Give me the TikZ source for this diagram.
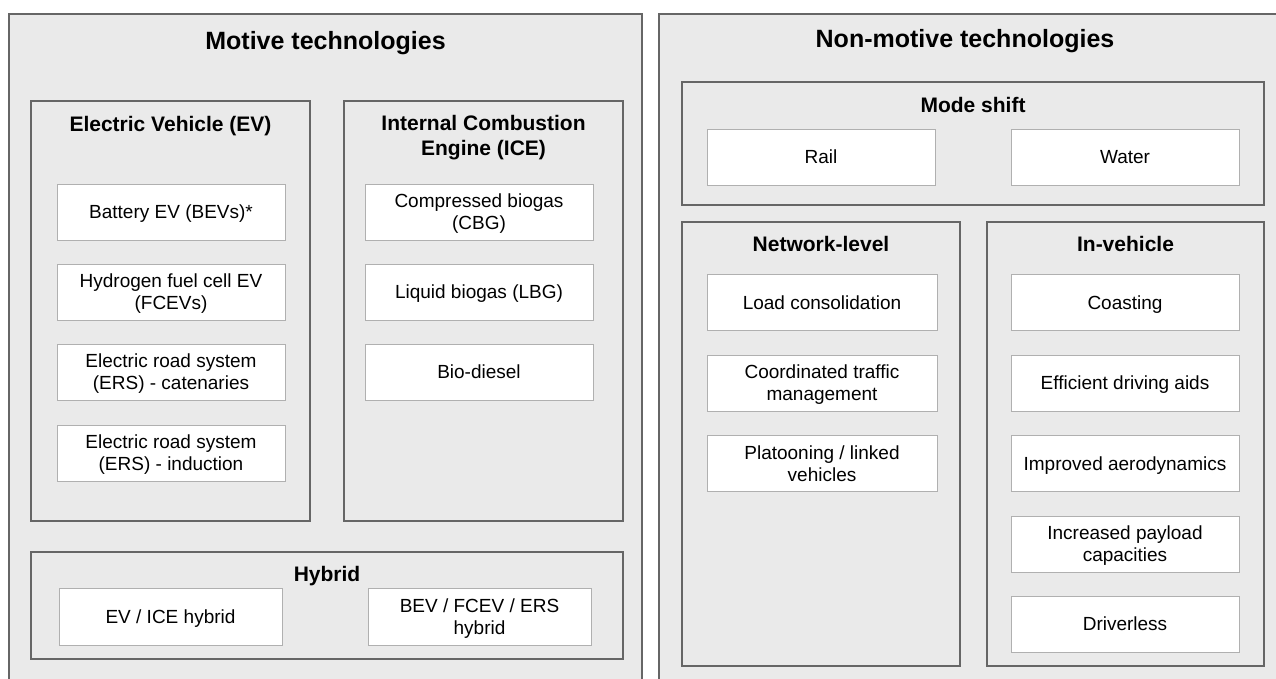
\documentclass[tikz,border=0pt]{standalone}
\usepackage{fontspec}
\setmainfont{Liberation Sans}
\definecolor{panelfill}{RGB}{234,234,234}
\definecolor{edge}{RGB}{102,102,102}
\definecolor{itemedge}{RGB}{176,176,176}
\tikzset{
  panel/.style={draw=edge, line width=2pt, fill=panelfill, inner sep=0pt, rectangle},
  group/.style={draw=edge, line width=1.8pt, fill=panelfill, inner sep=0pt, rectangle},
  item/.style={draw=itemedge, line width=1pt, fill=white, inner sep=0pt, rectangle,
    align=center, text depth=0pt, font=\fontsize{19}{22}\selectfont},
  head/.style={align=center, inner sep=0pt, text depth=0pt, font=\bfseries\fontsize{21}{25}\selectfont},
  bigtitle/.style={inner sep=0pt, text depth=0pt, font=\bfseries\fontsize{25}{30}\selectfont},
}
\begin{document}
\begin{tikzpicture}[x=1pt, y=-1pt]
\useasboundingbox (0,0) rectangle (1276,678);
\clip (0,0) rectangle (1276,678);

% two main panels
\node[panel, minimum width=633pt, minimum height=686pt] (motive) at (325.5,357) {};
\node[panel, minimum width=641pt, minimum height=686pt] (nonmotive) at (979.5,357) {};
\node[bigtitle] (motiveT) at (325.5,40) {Motive technologies};
\node[bigtitle] (nonmotiveT) at (965,38.5) {Non-motive technologies};

% electric vehicles
\node[group, minimum width=279pt, minimum height=420pt] (ev) at (170.5,311) {};
\node[head] (evT) at (170.5,124) {Electric Vehicle (EV)};
\node[item, minimum width=228pt, minimum height=56pt] (bev) at (171,212) {Battery EV (BEVs)*};
\node[item, minimum width=228pt, minimum height=56pt] (fcev) at (171,292) {Hydrogen fuel cell EV\\(FCEVs)};
\node[item, minimum width=228pt, minimum height=56pt] (erscat) at (171,372) {Electric road system\\(ERS) - catenaries};
\node[item, minimum width=228pt, minimum height=56pt] (ersind) at (171,453) {Electric road system\\(ERS) - induction};

% internal combustion
\node[group, minimum width=279pt, minimum height=420pt] (ice) at (483.5,311) {};
\node[head] (iceT) at (483.5,135.5) {Internal Combustion\\Engine (ICE)};
\node[item, minimum width=228pt, minimum height=56pt] (cbg) at (479,212) {Compressed biogas\\(CBG)};
\node[item, minimum width=228pt, minimum height=56pt] (lbg) at (479,292) {Liquid biogas (LBG)};
\node[item, minimum width=228pt, minimum height=56pt] (biodiesel) at (479,372) {Bio-diesel};

% hybrids
\node[group, minimum width=592pt, minimum height=107pt] (hybrid) at (327,605.5) {};
\node[head] (hybridT) at (327,573.5) {Hybrid};
\node[item, minimum width=223pt, minimum height=57pt] (evice) at (170.5,616.5) {EV / ICE hybrid};
\node[item, minimum width=223pt, minimum height=57pt] (bevmix) at (479.5,616.5) {BEV / FCEV / ERS\\hybrid};

% mode shift
\node[group, minimum width=582pt, minimum height=123pt] (mode) at (973,143.5) {};
\node[head] (modeT) at (973,104.5) {Mode shift};
\node[item, minimum width=228pt, minimum height=56pt] (rail) at (821,157) {Rail};
\node[item, minimum width=228pt, minimum height=56pt] (water) at (1125,157) {Water};

% network-level measures
\node[group, minimum width=278pt, minimum height=444pt] (network) at (821,444) {};
\node[head] (networkT) at (821,244) {Network-level};
\node[item, minimum width=230pt, minimum height=56pt] (load) at (822,302.5) {Load consolidation};
\node[item, minimum width=230pt, minimum height=56pt] (traffic) at (822,383) {Coordinated traffic\\management};
\node[item, minimum width=230pt, minimum height=56pt] (platoon) at (822,463.5) {Platooning / linked\\vehicles};

% in-vehicle measures
\node[group, minimum width=277pt, minimum height=444pt] (invehicle) at (1125.5,444) {};
\node[head] (invehicleT) at (1125.5,243.5) {In-vehicle};
\node[item, minimum width=228pt, minimum height=56pt] (coast) at (1125,302.5) {Coasting};
\node[item, minimum width=228pt, minimum height=56pt] (aids) at (1125,383) {Efficient driving aids};
\node[item, minimum width=228pt, minimum height=56pt] (aero) at (1125,463.5) {Improved aerodynamics};
\node[item, minimum width=228pt, minimum height=56pt] (payload) at (1125,544) {Increased payload\\capacities};
\node[item, minimum width=228pt, minimum height=56pt] (driverless) at (1125,624) {Driverless};
\end{tikzpicture}
\end{document}
